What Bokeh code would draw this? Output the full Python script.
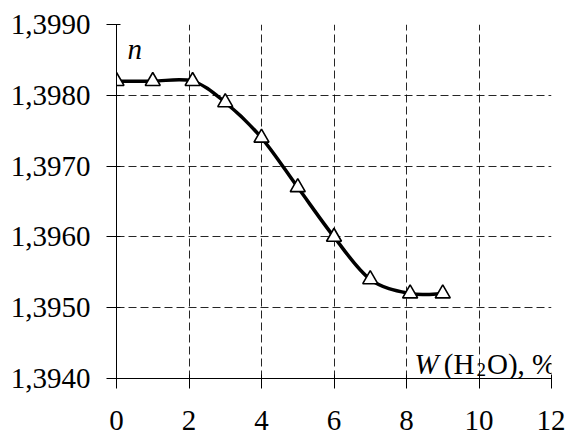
from bokeh.plotting import figure
from bokeh.models import FixedTicker, Label, ColumnDataSource
from bokeh.embed import file_html
from bokeh.resources import INLINE

# Data
w_water = [0, 1, 2.1, 3, 4, 5, 6, 7, 8.1, 9]
n_index = [1.3982, 1.3982, 1.3982, 1.3979, 1.3974, 1.3967, 1.3960, 1.3954, 1.3952, 1.3952]
x_ticks = [0, 2, 4, 6, 8, 10, 12]
y_ticks = [1.3940, 1.3950, 1.3960, 1.3970, 1.3980, 1.3990]
y_tick_labels = ["1,3940", "1,3950", "1,3960", "1,3970", "1,3980", "1,3990"]

FONT = "Liberation Serif"
FS = "29px"

p = figure(width=565, height=436, output_backend="svg", toolbar_location=None,
           x_range=(0, 12), y_range=(1.3940, 1.3990),
           min_border_left=116, min_border_right=14, min_border_top=24, min_border_bottom=58)
p.outline_line_color = None
p.background_fill_color = "white"
p.border_fill_color = "white"

# smooth line (Excel-style smoothing: cubic Bezier segments through the data points)
n = len(w_water)
x0s, y0s, x1s, y1s, cx0s, cy0s, cx1s, cy1s = [], [], [], [], [], [], [], []
for i in range(n - 1):
    xa, ya = w_water[i], n_index[i]
    xb, yb = w_water[i + 1], n_index[i + 1]
    xp, yp = (w_water[i - 1], n_index[i - 1]) if i > 0 else (xa, ya)
    xn, yn = (w_water[i + 2], n_index[i + 2]) if i + 2 < n else (xb, yb)
    x0s.append(xa); y0s.append(ya); x1s.append(xb); y1s.append(yb)
    cx0s.append(xa + (xb - xp) / 6); cy0s.append(ya + (yb - yp) / 6)
    cx1s.append(xb - (xn - xa) / 6); cy1s.append(yb - (yn - ya) / 6)
src = ColumnDataSource(dict(x0=x0s, y0=y0s, x1=x1s, y1=y1s, cx0=cx0s, cy0=cy0s, cx1=cx1s, cy1=cy1s))
p.bezier(x0="x0", y0="y0", x1="x1", y1="y1", cx0="cx0", cy0="cy0", cx1="cx1", cy1="cy1",
         source=src, line_color="black", line_width=3.5)
p.scatter(w_water, n_index, marker="triangle", size=15, fill_color="white",
          line_color="black", line_width=1.6)

# axes
for ax in (p.xaxis[0], p.yaxis[0]):
    ax.axis_line_color = "black"
    ax.axis_line_width = 1
    ax.major_tick_in = 4
    ax.major_tick_out = 10
    ax.minor_tick_line_color = None
    ax.major_label_text_font = FONT
    ax.major_label_text_font_size = FS
    ax.major_label_text_color = "black"
    ax.major_tick_line_color = "black"

p.xaxis.ticker = FixedTicker(ticks=x_ticks)
p.yaxis.ticker = FixedTicker(ticks=y_ticks)
p.yaxis.major_label_overrides = {t: l for t, l in zip(y_ticks, y_tick_labels)}
p.xaxis.major_label_standoff = 22
p.yaxis.major_label_standoff = 16

for g in (p.xgrid[0], p.ygrid[0]):
    g.grid_line_color = "black"
    g.grid_line_dash = "8 4"
    g.grid_line_width = 1
    g.grid_line_alpha = 0.85

# annotations (data coordinates)
p.add_layout(Label(x=0.30, y=1.39866, text="n",
                   text_font=FONT, text_font_style="italic", text_font_size=FS,
                   text_color="black", text_baseline="alphabetic"))
p.add_layout(Label(x=8.22, y=1.39420, text="W",
                   text_font=FONT, text_font_style="italic", text_font_size=FS,
                   text_color="black", text_baseline="alphabetic"))
p.add_layout(Label(x=9.03, y=1.39420, text="(H",
                   text_font=FONT, text_font_size=FS, text_color="black",
                   text_baseline="alphabetic"))
p.add_layout(Label(x=9.93, y=1.39413, text="2",
                   text_font=FONT, text_font_size="19px", text_color="black",
                   text_baseline="alphabetic"))
p.add_layout(Label(x=10.22, y=1.39420, text="O), %",
                   text_font=FONT, text_font_size=FS, text_color="black",
                   text_baseline="alphabetic"))

open("out.html", "w").write(file_html(p, INLINE))
